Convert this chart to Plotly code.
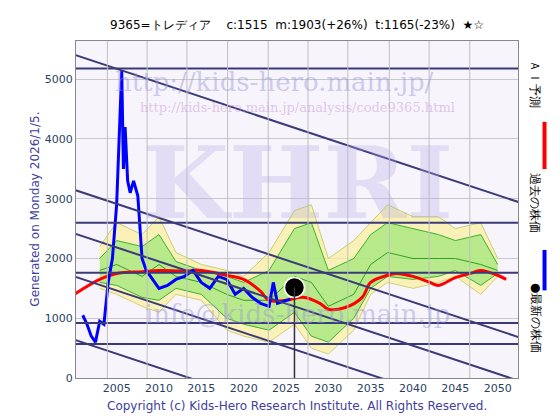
import plotly.graph_objects as go

blue_x = [2001,2001.5,2002,2002.5,2003,2003.5,2004,2004.5,2005,2005.3,2005.6,2005.8,2006,2006.3,2006.6,2007,2007.5,2008,2008.5,2009,2010,2011,2012,2013,2014,2015,2016,2017,2018,2019,2020,2021,2022,2023,2023.5,2024,2025,2025.5]
blue_y = [1050,900,700,600,950,900,1600,2000,2900,4200,5150,3500,4200,3300,3100,3300,3050,2000,1800,1700,1500,1550,1650,1700,1800,1600,1500,1700,1650,1400,1500,1350,1250,1200,1600,1250,1300,1320]

red_x = [2000,2003,2005,2008,2010,2013,2015,2018,2020,2022,2023,2025,2027,2029,2030,2032,2034,2035,2037,2038,2040,2042,2043,2045,2047,2048,2050,2051]
red_y = [1400,1650,1750,1780,1800,1790,1800,1720,1650,1450,1300,1300,1350,1250,1150,1180,1350,1600,1720,1750,1700,1600,1550,1680,1760,1800,1720,1650]

band_x = [2003,2005,2008,2010,2012,2015,2018,2020,2023,2026,2028,2030,2033,2035,2037,2040,2043,2045,2048,2050]
yel_hi = [2200,2600,2400,2700,2100,1900,1800,1700,2100,2800,2900,2000,2300,2600,2900,2700,2700,2500,2600,2000]
yel_lo = [1500,1400,1200,1100,1400,1300,800,700,600,900,500,400,800,1400,1600,1500,1600,1700,1400,1700]
grn_hi = [2000,2300,2200,2400,1950,1800,1700,1600,1800,2500,2600,1800,2000,2400,2600,2500,2400,2300,2400,1900]
grn_lo = [1600,1550,1350,1300,1500,1400,1000,900,800,1100,700,600,1000,1500,1700,1650,1700,1800,1550,1750]
grn_mid = [1800,1900,1700,1900,1700,1600,1400,1300,1300,1700,1600,1200,1400,1900,2100,2000,2000,2000,1900,1800]

hlines = [5180,2600,1760,920,570]
diag_start = [5410,3150,2420,1700,640]
diag_slope = -47
grid_x = [2003.9,2008.6,2013.3,2018.1,2022.9,2027.6,2032.3,2037.2,2041.9,2046.7]
last_x, last_y = 2026, 1515

fig = go.Figure()
fig.add_trace(go.Scatter(x=band_x, y=yel_lo, mode="lines", line=dict(color="#c8c860", width=0.8), showlegend=False))
fig.add_trace(go.Scatter(x=band_x, y=yel_hi, mode="lines", fill="tonexty", fillcolor="rgba(250,240,160,0.75)", line=dict(color="#b8c850", width=0.8), showlegend=False))
fig.add_trace(go.Scatter(x=band_x, y=grn_lo, mode="lines", line=dict(color="#40b030", width=1), showlegend=False))
fig.add_trace(go.Scatter(x=band_x, y=grn_hi, mode="lines", fill="tonexty", fillcolor="rgba(140,230,110,0.6)", line=dict(color="#40b030", width=1), showlegend=False))
fig.add_trace(go.Scatter(x=band_x, y=grn_mid, mode="lines", line=dict(color="#30a020", width=1), showlegend=False))

for h in hlines:
    fig.add_hline(y=h, line=dict(color="#3a3a78", width=2))
for b in diag_start:
    fig.add_shape(type="line", x0=2000, x1=2055, y0=b, y1=b + diag_slope * 55, line=dict(color="#3a3a78", width=2))
for g in grid_x:
    fig.add_vline(x=g, line=dict(color="#c0c0c0", width=1))

fig.add_trace(go.Scatter(x=red_x, y=red_y, mode="lines", line=dict(color="#ff0000", width=3, shape="spline"), showlegend=False))
fig.add_trace(go.Scatter(x=blue_x, y=blue_y, mode="lines", line=dict(color="#0000ff", width=3), showlegend=False))
fig.add_shape(type="line", x0=last_x, x1=last_x, y0=0, y1=last_y, line=dict(color="#333333", width=1.5))
fig.add_trace(go.Scatter(x=[last_x], y=[last_y], mode="markers", marker=dict(color="black", size=20, line=dict(color="white", width=1.5)), showlegend=False))

wm = "rgba(150,150,220,0.45)"
ann = [
    dict(x=0.45, y=0.93, text="http://kids-hero.main.jp/", font=dict(size=26, color=wm, family="DejaVu Serif")),
    dict(x=0.5, y=0.83, text="http://kids-hero.main.jp/analysis/code9365.html", font=dict(size=13, color="rgba(200,150,220,0.5)", family="DejaVu Serif")),
    dict(x=0.5, y=0.58, text="<b>KHRI</b>", font=dict(size=100, color="rgba(180,170,230,0.3)", family="DejaVu Serif")),
    dict(x=0.5, y=0.14, text="info@kids-hero.main.jp", font=dict(size=26, color=wm, family="DejaVu Serif")),
]
for a in ann:
    fig.add_annotation(xref="paper", yref="paper", showarrow=False, **a)

fig.add_annotation(xref="paper", yref="paper", x=0.5, y=1.075, showarrow=False,
    text="9365=トレディア　 c:1515  m:1903(+26%)  t:1165(-23%)  ★☆", font=dict(size=12, color="black"))
fig.add_annotation(xref="paper", yref="paper", x=0.5, y=-0.055, yanchor="top", showarrow=False,
    text="Copyright (c) Kids-Hero Research Institute. All Rights Reserved.", font=dict(size=12, color="#4040a0"))
fig.add_annotation(xref="paper", yref="paper", x=-0.115, y=0.5, showarrow=False, textangle=-90,
    text="Generated on Monday 2026/1/5.", font=dict(size=12, color="#4040a0"))
for t, yy in [("ＡＩ予測", 0.95), ("過去の株価", 0.52), ("●最新の株価", 0.07)]:
    fig.add_annotation(xref="paper", yref="paper", x=1.06, y=yy, showarrow=False, textangle=90, text=t, font=dict(size=12, color="black"))
fig.add_shape(type="line", xref="paper", yref="paper", x0=1.06, x1=1.06, y0=0.62, y1=0.76, line=dict(color="red", width=4))
fig.add_shape(type="line", xref="paper", yref="paper", x0=1.06, x1=1.06, y0=0.26, y1=0.38, line=dict(color="blue", width=4))

fig.update_layout(width=560, height=420, margin=dict(l=68, r=50, t=33, b=50),
    plot_bgcolor="#f7f4fb", paper_bgcolor="white", font=dict(family="DejaVu Sans", size=11))
fig.update_xaxes(range=[2000.2, 2052.4], tickvals=[2005,2010,2015,2020,2025,2030,2035,2040,2045,2050],
    showgrid=False, showline=True, linecolor="#888", mirror=True, ticks="", zeroline=False)
fig.update_yaxes(range=[0, 5640], dtick=1000, gridcolor="#c8c8c8", showline=True, linecolor="#888", mirror=True, zeroline=False)
fig.write_html("out.html")
